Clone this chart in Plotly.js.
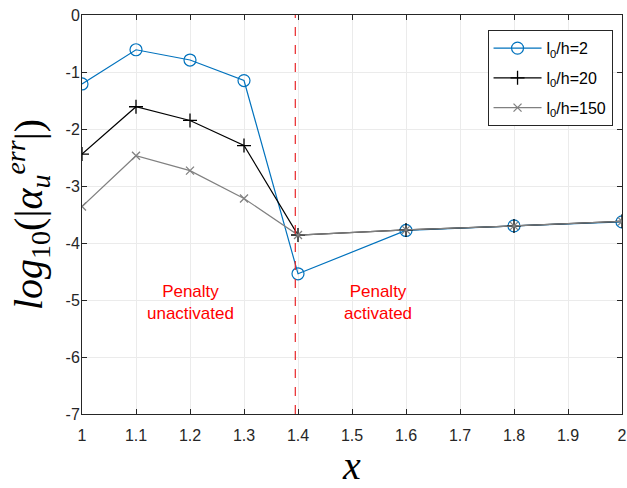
<!DOCTYPE html>
<html>
<head>
<meta charset="utf-8">
<script src="https://cdn.plot.ly/plotly-3.0.1.min.js"></script>
<style>
  html, body { margin: 0; padding: 0; background: #fff; }
  #chart { width: 627px; height: 488px; }
</style>
</head>
<body>
<div id="chart"></div>
<script>
// Sample positions along x
const xVals = [1.0, 1.1, 1.2, 1.3, 1.4, 1.6, 1.8, 2.0];

// log10 of the error for each l0/h ratio
const errL0h2   = [-1.21, -0.61, -0.79, -1.15, -4.54, -3.78, -3.70, -3.63];
const errL0h20  = [-2.44, -1.61, -1.85, -2.29, -3.86, -3.77, -3.70, -3.62];
const errL0h150 = [-3.36, -2.47, -2.73, -3.22, -3.86, -3.77, -3.70, -3.62];

const seriesNames = ['l<sub>0</sub>/h=2', 'l<sub>0</sub>/h=20', 'l<sub>0</sub>/h=150'];

// Location where the penalty switches on
const penaltyX = 1.395;

const xTicks = [1, 1.1, 1.2, 1.3, 1.4, 1.5, 1.6, 1.7, 1.8, 1.9, 2];
const yTicks = [-7, -6, -5, -4, -3, -2, -1, 0];

const traces = [
  {
    x: xVals, y: errL0h2, name: seriesNames[0], legendgroup: 'a', type: 'scatter', mode: 'lines+markers',
    line: { color: '#0072BD', width: 1.2 },
    marker: { symbol: 'circle-open', size: 12, color: '#0072BD', line: { width: 1.2, color: '#0072BD' } }
  },
  {
    x: xVals, y: errL0h20, name: seriesNames[1], legendgroup: 'b', type: 'scatter', mode: 'lines+markers',
    line: { color: '#000000', width: 1.2 },
    marker: { symbol: 'cross-thin-open', size: 10, color: '#000000', line: { width: 1.3, color: '#000000' } }
  },
  {
    x: xVals, y: errL0h150, name: seriesNames[2], legendgroup: 'c', type: 'scatter', mode: 'lines+markers',
    line: { color: '#808080', width: 1.2 },
    marker: { symbol: 'x-thin-open', size: 8, color: '#808080', line: { width: 1.3, color: '#808080' } }
  }
];

const axisCommon = {
  showline: true, mirror: 'ticks', linecolor: '#262626', linewidth: 1,
  ticks: 'inside', ticklen: 5, tickcolor: '#262626', tickwidth: 1,
  showgrid: true, gridcolor: '#ebebeb', gridwidth: 1, zeroline: false,
  tickfont: { family: 'Liberation Sans, Arial, sans-serif', size: 16, color: '#262626' }
};

const layout = {
  width: 627, height: 488,
  margin: { l: 82, r: 5, t: 15, b: 74 },
  paper_bgcolor: '#ffffff', plot_bgcolor: '#ffffff',
  showlegend: true,
  legend: {
    x: 0.751, y: 0.962, xanchor: 'left', yanchor: 'top',
    bgcolor: '#ffffff', bordercolor: '#262626', borderwidth: 1,
    font: { family: 'Liberation Sans, Arial, sans-serif', size: 16, color: '#000' },
    itemwidth: 48, traceorder: 'grouped', tracegroupgap: 6
  },
  xaxis: Object.assign({}, axisCommon, {
    range: [1, 2], tickmode: 'array', tickvals: xTicks,
    ticktext: xTicks.map(String), ticklabelstandoff: 7,
    title: { text: '<i>x</i>', font: { family: 'Liberation Serif, serif', size: 40, color: '#000' }, standoff: 21 }
  }),
  yaxis: Object.assign({}, axisCommon, {
    range: [-7, 0], tickmode: 'array', tickvals: yTicks,
    ticktext: yTicks.map(String), ticklabelstandoff: -2,
    title: {
      text: '<i>log</i><sub>10</sub>(|<i>α</i><sub><i>u</i></sub><sup><i>err</i></sup>|)',
      font: { family: 'Liberation Serif, serif', size: 40, color: '#000' }, standoff: 10
    }
  }),
  shapes: [{
    type: 'line', xref: 'x', yref: 'y',
    x0: penaltyX, x1: penaltyX, y0: -7, y1: 0,
    line: { color: '#e8262a', width: 1.2, dash: 'dash' }
  }],
  annotations: [
    {
      x: 1.2, y: -5.05, xref: 'x', yref: 'y', showarrow: false,
      text: 'Penalty<br>unactivated', align: 'center',
      font: { family: 'Liberation Sans, Arial, sans-serif', size: 17, color: '#ff0000' }
    },
    {
      x: 1.549, y: -5.05, xref: 'x', yref: 'y', showarrow: false,
      text: 'Penalty<br>activated', align: 'center',
      font: { family: 'Liberation Sans, Arial, sans-serif', size: 17, color: '#ff0000' }
    }
  ]
};

Plotly.newPlot('chart', traces, layout, { displayModeBar: false, staticPlot: true });
</script>
</body>
</html>
